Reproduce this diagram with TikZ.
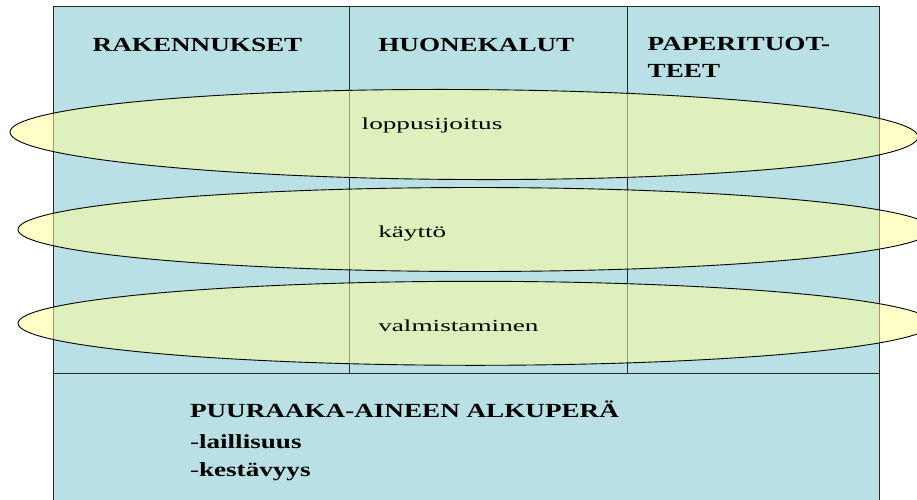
\documentclass[tikz,border=0pt]{standalone}
\usepackage{fontspec}
\setmainfont{Liberation Serif}
\definecolor{boxblue}{RGB}{185,224,228}
\definecolor{ellyellow}{RGB}{255,255,153}
\definecolor{linegray}{RGB}{40,40,40}
\newcommand{\hdrtxt}[1]{\scalebox{1.357}[1]{\fontsize{20}{24}\selectfont\bfseries #1}}
\newcommand{\bottxt}[1]{\scalebox{1.357}[1]{\fontsize{20}{24}\selectfont #1}}
\newcommand{\elltxt}[1]{\scalebox{1.62}[1]{\fontsize{16.8}{20}\selectfont #1}}
\begin{document}
\begin{tikzpicture}[x=1pt,y=-1pt,
  frame/.style={draw=linegray, line width=0.9pt},
  band/.style={draw=black, line width=0.9pt, fill=ellyellow, fill opacity=0.54},
  lbl/.style={anchor=base west, inner sep=0pt, outer sep=0pt}]
\useasboundingbox (0,0) rectangle (917,499);
\clip (0,0) rectangle (917,499);
% blue table
\fill[boxblue] (53.3,6) rectangle (879,510);
\draw[frame] (53.3,510) -- (53.3,6) -- (879,6) -- (879,510);
\draw[frame] (53.3,373) -- (879,373);
\draw[frame] (349,6) -- (349,373);
\draw[frame] (627,6) -- (627,373);
% ellipses
\draw[band, rotate around={-0.3:(464,134.5)}] (464,134.5) ellipse [x radius=454, y radius=45];
\draw[band] (475,229.5) ellipse [x radius=457, y radius=42];
\draw[band] (475,323.3) ellipse [x radius=457, y radius=42];
% headers
\node[lbl] (h1) at (92.7,51) {\hdrtxt{RAKENNUKSET}};
\node[lbl] (h2) at (378.3,51) {\hdrtxt{HUONEKALUT}};
\node[lbl] (h3a) at (647.7,50) {\hdrtxt{PAPERITUOT-}};
\node[lbl] (h3b) at (647.7,77.3) {\hdrtxt{TEET}};
% ellipse labels
\node[lbl] (e1) at (361.7,129.3) {\elltxt{loppusijoitus}};
\node[lbl] (e2) at (378.3,237.7) {\elltxt{käyttö}};
\node[lbl] (e3) at (378.3,331) {\elltxt{valmistaminen}};
% bottom
\node[lbl] (b1) at (190,417.7) {\hdrtxt{PUURAAKA-AINEEN ALKUPERÄ}};
\node[lbl] (b2) at (190,448.3) {\bottxt{-\textbf{laillisuus}}};
\node[lbl] (b3) at (190,476.7) {\bottxt{-\textbf{kestävyys}}};
\end{tikzpicture}
\end{document}
